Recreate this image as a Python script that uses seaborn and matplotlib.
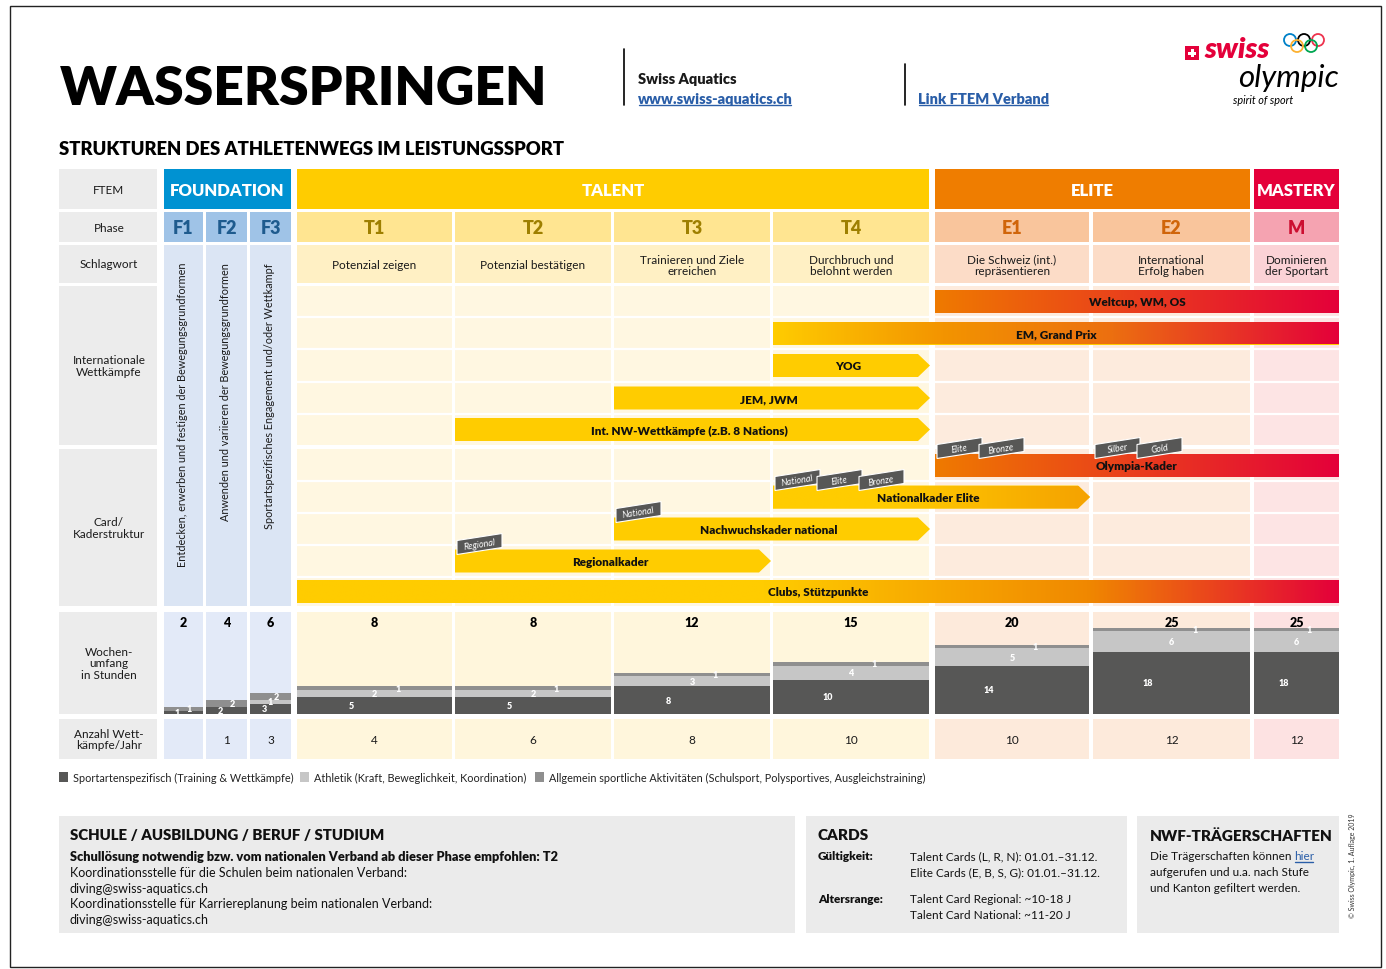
import numpy as np
import matplotlib
matplotlib.use("Agg")
import matplotlib.pyplot as plt
from matplotlib.patches import Rectangle, Polygon, Circle
from matplotlib.colors import LinearSegmentedColormap
import seaborn as sns

sns.set_theme(style="white")
plt.rcParams['font.family'] = ['Lato', 'DejaVu Sans']
BOLD = 'heavy'

# ---------------- data ----------------
ftem_groups = ['FOUNDATION', 'TALENT', 'ELITE', 'MASTERY']
phases = ['F1', 'F2', 'F3', 'T1', 'T2', 'T3', 'T4', 'E1', 'E2', 'M']
phase_group = ['F', 'F', 'F', 'T', 'T', 'T', 'T', 'E', 'E', 'M']
keywords = ['', '', '', 'Potenzial zeigen', 'Potenzial bestätigen',
            'Trainieren und Ziele\nerreichen', 'Durchbruch und\nbelohnt werden',
            'Die Schweiz (int.)\nrepräsentieren', 'International\nErfolg haben',
            'Dominieren\nder Sportart']
foundation_notes = ['Entdecken, erwerben und festigen der Bewegungsgrundformen',
                    'Anwenden und variieren der Bewegungsgrundformen',
                    'Sportartspezifisches Engagement und/oder Wettkampf']
row_labels = ['FTEM', 'Phase', 'Schlagwort', 'Internationale\nWettkämpfe',
              'Card/\nKaderstruktur', 'Wochen-\numfang\nin Stunden',
              'Anzahl Wett-\nkämpfe/Jahr']
hours_total = [2, 4, 6, 8, 8, 12, 15, 20, 25, 25]
hours_specific = [1, 2, 3, 5, 5, 8, 10, 14, 18, 18]
hours_athletic = [0, 0, 1, 2, 2, 3, 4, 5, 6, 6]
hours_general = [1, 2, 2, 1, 1, 1, 1, 1, 1, 1]
competitions = ['', '1', '3', '4', '6', '8', '10', '10', '12', '12']

# label, row in section, first phase, last phase, arrow head
intl_bars = [('Weltcup, WM, OS', 0, 'E1', 'M', False),
             ('EM, Grand Prix', 1, 'T4', 'M', False),
             ('YOG', 2, 'T4', 'T4', True),
             ('JEM, JWM', 3, 'T3', 'T4', True),
             ('Int. NW-Wettkämpfe (z.B. 8 Nations)', 4, 'T2', 'T4', True)]
card_bars = [('Olympia-Kader', 0, 'E1', 'M', False),
             ('Nationalkader Elite', 1, 'T4', 'E1', True),
             ('Nachwuchskader national', 2, 'T3', 'T4', True),
             ('Regionalkader', 3, 'T2', 'T3', True),
             ('Clubs, Stützpunkte', 4, 'T1', 'M', False)]
card_tags = [(0, 'E1', ['Elite', 'Bronze']),
             (0, 'E2', ['Silber', 'Gold']),
             (1, 'T4', ['National', 'Elite', 'Bronze']),
             (2, 'T3', ['National']),
             (3, 'T2', ['Regional'])]
legend_labels = ['Sportartenspezifisch (Training & Wettkämpfe)',
                 'Athletik (Kraft, Beweglichkeit, Koordination)',
                 'Allgemein sportliche Aktivitäten (Schulsport, Polysportives, Ausgleichstraining)']

# ---------------- styles / layout ----------------
YEL, ORA, RED = '#ffcc00', '#ef7d00', '#e4003a'
bar_colors = {
    'Weltcup, WM, OS': [(0, '#ef7a00'), (1, RED)],
    'EM, Grand Prix': [(0, YEL), (0.3, '#f39400'), (0.6, '#ec6f10'), (1, RED)],
    'Olympia-Kader': [(0, '#ef7a00'), (1, RED)],
    'Nationalkader Elite': [(0, YEL), (0.35, YEL), (1, '#f5a200')],
    'Clubs, Stützpunkte': [(0, YEL), (0.45, YEL), (0.76, '#f08800'), (1, RED)],
}
head_col = {'F': '#0092d2', 'T': YEL, 'E': ORA, 'M': RED}
phase_bg = {'F': '#9fc3e7', 'T': '#ffe591', 'E': '#f9c59c', 'M': '#f5a3b1'}
phase_fg = {'F': '#1e5b8e', 'T': '#9e7f00', 'E': '#d0650a', 'M': '#cc0f30'}
kw_bg = {'F': '#dbe5f4', 'T': '#fff0c4', 'E': '#fcdcc7', 'M': '#fbd2d6'}
body_bg = {'F': '#dbe5f4', 'T': '#fff7e1', 'E': '#fdebdd', 'M': '#fde4e4'}
week_bg = {'F': '#e3eaf8', 'T': '#fff6dc', 'E': '#fdeadb', 'M': '#fde2e2'}
DARK, LIGHT, MID = '#575756', '#c6c6c6', '#8f8f8f'
LINK = '#2a5ea8'

W, H = 1386, 970
col_x = [(164, 203), (206, 247), (250, 291), (297, 452), (455, 611),
         (614, 770), (773, 929), (935, 1089), (1093, 1250), (1254, 1339)]
colx = dict(zip(phases, col_x))
group_span = {'F': (164, 291), 'T': (297, 929), 'E': (935, 1250), 'M': (1254, 1339)}
left_rows = [(170, 210), (213, 243), (246, 284), (287, 446), (450, 607), (613, 715), (720, 760)]
intl_rows = [287, 318, 350, 383, 415, 446]
card_rows = [450, 482, 514, 546, 578, 607]

fig = plt.figure(figsize=(13.86, 9.70), dpi=100)
ax = fig.add_axes([0, 0, 1, 1])
ax.set_xlim(0, W)
ax.set_ylim(H, 0)
ax.axis('off')


def rect(x0, y0, x1, y1, color, z=1, **kw):
    ax.add_patch(Rectangle((x0, y0), x1 - x0, y1 - y0, facecolor=color,
                           edgecolor='none', zorder=z, **kw))


def txt(x, y, s, size, **kw):
    kw.setdefault('ha', 'center')
    kw.setdefault('va', 'center')
    kw.setdefault('color', '#1a1a1a')
    return ax.text(x, y, s, fontsize=size, zorder=8, **kw)


renderer = fig.canvas.get_renderer()


def underline(t, color):
    bb = t.get_window_extent(renderer=renderer)
    y = H - bb.y0 + 0.5
    ax.plot([bb.x0 + 0.5, bb.x1 - 1.5], [y, y], color=color, lw=1, zorder=8)


# ---------------- frame & header ----------------
ax.add_patch(Rectangle((10, 7), 1371, 961, fill=False, edgecolor='#222', lw=1, zorder=0))
txt(60, 105, 'WASSERSPRINGEN', 38.5, ha='left', va='baseline', fontweight=BOLD, color='black')
ax.plot([624, 624], [50, 106], color='black', lw=1.2)
ax.plot([905, 905], [65, 106], color='black', lw=1.2)
txt(638, 80, 'Swiss Aquatics', 10.5, ha='left', fontweight=BOLD)
t = txt(638, 99, 'www.swiss-aquatics.ch', 10.5, ha='left', fontweight=BOLD, color=LINK)
underline(t, LINK)
t = txt(918, 99, 'Link FTEM Verband', 10.5, ha='left', fontweight=BOLD, color=LINK)
underline(t, LINK)

# swiss olympic logo
rect(1185, 47, 1199, 61, RED, z=5)
rect(1188, 52.5, 1196, 55.5, 'white', z=6)
rect(1190.5, 50, 1193.5, 58, 'white', z=6)
txt(1204, 58, 'swiss', 21, ha='left', va='baseline', fontweight=BOLD, style='italic', color=RED)
for (cx, cy), c in zip([(1290, 41), (1304, 41), (1318, 41), (1297, 47), (1311, 47)],
                       ['#0081c8', '#000000', '#ee334e', '#fcb131', '#00a651']):
    ax.add_patch(Circle((cx, cy), 6, fill=False, edgecolor=c, lw=1.3, zorder=6))
txt(1339, 87, 'olympic', 22.5, ha='right', va='baseline', style='italic', color='black')
txt(1233, 100, 'spirit of sport', 7.8, ha='left', style='italic', color='black')

txt(59, 155, 'STRUKTUREN DES ATHLETENWEGS IM LEISTUNGSSPORT', 13.3, ha='left',
    va='baseline', fontweight=BOLD, color='black')

# ---------------- left label column ----------------
for lab, (y0, y1) in zip(row_labels, left_rows):
    rect(59, y0, 157, y1, '#ececec')
    txt(109, (y0 + y1) / 2, lab, 8.5, linespacing=1.05)

# FTEM row
for g, name in zip(['F', 'T', 'E', 'M'], ftem_groups):
    x0, x1 = group_span[g]
    rect(x0, 170, x1, 210, head_col[g])
    txt((x0 + x1) / 2, 191, name, 12, fontweight=BOLD, color='white')

# phase / keyword / body / week / competitions
for i, (p, g) in enumerate(zip(phases, phase_group)):
    x0, x1 = col_x[i]
    xc = (x0 + x1) / 2
    rect(x0, 213, x1, 243, phase_bg[g])
    txt(xc, 229, p, 13, fontweight=BOLD, color=phase_fg[g])
    if g == 'F':
        rect(x0, 246, x1, 607, body_bg[g])
        txt(xc - 1, 263, foundation_notes[i], 7.8, rotation=90, va='top')
    else:
        rect(x0, 246, x1, 284, kw_bg[g])
        txt(xc, 266, keywords[i], 8.5, linespacing=1.05)
        rect(x0, 287, x1, 446, body_bg[g])
        rect(x0, 450, x1, 607, body_bg[g])
    rect(x0, 613, x1, 715, week_bg[g])
    rect(x0, 720, x1, 760, week_bg[g])
    txt(xc, 741, competitions[i], 8.5)
    txt(xc, 623, str(hours_total[i]), 9, fontweight=BOLD, color='black')

for y in intl_rows[1:-1] + card_rows[1:-1]:
    ax.plot([297, 1339], [y, y], color='white', lw=1.6, zorder=2)


# ---------------- lane bars ----------------
def lane_bar(label, yc, first, last, arrow):
    x0 = colx[first][0]
    x1 = colx[last][1] + (1 if arrow else 0)
    h = 23
    y0, y1 = yc - h / 2, yc + h / 2
    tip = 12 if arrow else 0
    if arrow:
        verts = [(x0, y0), (x1 - tip, y0), (x1, yc), (x1 - tip, y1), (x0, y1)]
    else:
        verts = [(x0, y0), (x1, y0), (x1, y1), (x0, y1)]
    poly = Polygon(verts, closed=True, facecolor=YEL, edgecolor='none', zorder=3)
    ax.add_patch(poly)
    if label in bar_colors:
        cmap = LinearSegmentedColormap.from_list('g', bar_colors[label])
        grad = np.linspace(0, 1, 512).reshape(1, -1)
        im = ax.imshow(grad, cmap=cmap, extent=(x0, x1, y1, y0), aspect='auto',
                       interpolation='bilinear', zorder=3.5)
        im.set_clip_path(poly)
    txt((x0 + x1 - tip / 2) / 2, yc + 0.5, label, 8.5, fontweight=BOLD, color='#111')
    return y0


def centers(rows):
    return [(a + b) / 2 for a, b in zip(rows[:-1], rows[1:])]


ic = centers(intl_rows)
cc = centers(card_rows)
for label, r, a, b, arr in intl_bars:
    lane_bar(label, ic[r], a, b, arr)
tops = {}
for label, r, a, b, arr in card_bars:
    tops[r] = lane_bar(label, cc[r], a, b, arr)

# small card tags
for r, p, labs in card_tags:
    top = tops[r]
    x = colx[p][0] + 2
    for k, lab in enumerate(labs):
        xs = x + 42 * k
        verts = [(xs, top + 5), (xs + 45, top - 2), (xs + 45, top - 16), (xs, top - 9)]
        ax.add_patch(Polygon(verts, closed=True, facecolor=DARK, edgecolor='white',
                             lw=0.8, zorder=5 + 0.01 * k))
        ax.text(xs + 22.5, top - 5.5, lab, fontsize=6.5, style='italic', color='white',
                rotation=9, ha='center', va='center', zorder=5.005 + 0.01 * k)

# ---------------- weekly hours (stacked bars) ----------------
wx0, wx1, wy0, wy1 = 164, 1339, 613, 715
pxh = 3.45
axw = fig.add_axes([wx0 / W, 1 - wy1 / H, (wx1 - wx0) / W, (wy1 - wy0) / H])
axw.set_xlim(wx0, wx1)
axw.set_ylim(0, (wy1 - wy0) / pxh)
axw.axis('off')
axw.patch.set_visible(False)
xc = np.array([(a + b) / 2 for a, b in col_x])
wd = np.array([b - a for a, b in col_x])
spec = np.array(hours_specific)
ath = np.array(hours_athletic)
gen = np.array(hours_general)
axw.bar(xc, spec, width=wd, color=DARK, linewidth=0)
axw.bar(xc, ath, bottom=spec, width=wd, color=LIGHT, linewidth=0)
axw.bar(xc, gen, bottom=spec + ath, width=wd, color=MID, linewidth=0)
for i in range(len(phases)):
    x0 = col_x[i][0]
    w = wd[i]
    for val, base, fx in [(spec[i], 0, 0.35), (ath[i], spec[i], 0.5), (gen[i], spec[i] + ath[i], 0.65)]:
        if val > 0:
            axw.text(x0 + fx * w, base + val / 2, str(val), fontsize=6.5, fontweight=BOLD,
                     color='white', ha='center', va='center')

# ---------------- legend ----------------
lx = [59, 300, 535]
for x, c, lab in zip(lx, [DARK, LIGHT, MID], legend_labels):
    rect(x, 773, x + 9, 783, c)
    txt(x + 14, 778, lab, 7.8, ha='left', color='#222')

# ---------------- footer boxes ----------------
rect(59, 817, 795, 934, '#ebebeb')
rect(806, 817, 1127, 934, '#ebebeb')
rect(1137, 817, 1339, 934, '#ebebeb')

txt(70, 836, 'SCHULE / AUSBILDUNG / BERUF / STUDIUM', 10.8, ha='left', fontweight=BOLD, color='#111')
txt(70, 857, 'Schullösung notwendig bzw. vom nationalen Verband ab dieser Phase empfohlen: T2',
    9.2, ha='left', fontweight=BOLD, color='#111')
for k, line in enumerate(['Koordinationsstelle für die Schulen beim nationalen Verband:',
                          'diving@swiss-aquatics.ch',
                          'Koordinationsstelle für Karriereplanung beim nationalen Verband:',
                          'diving@swiss-aquatics.ch']):
    txt(70, 873 + 15.7 * k, line, 9, ha='left', color='#111')

txt(818, 836, 'CARDS', 11, ha='left', fontweight=BOLD, color='#111')
txt(818, 857, 'Gültigkeit:', 8.5, ha='left', fontweight=BOLD, color='#111')
txt(910, 857, 'Talent Cards (L, R, N): 01.01.–31.12.', 8.5, ha='left', color='#111')
txt(910, 873, 'Elite Cards (E, B, S, G): 01.01.–31.12.', 8.5, ha='left', color='#111')
txt(818, 900, 'Altersrange:', 8.5, ha='left', fontweight=BOLD, color='#111')
txt(910, 900, 'Talent Card Regional: ~10-18 J', 8.5, ha='left', color='#111')
txt(910, 916, 'Talent Card National: ~11-20 J', 8.5, ha='left', color='#111')

txt(1150, 836, 'NWF-TRÄGERSCHAFTEN', 11, ha='left', fontweight=BOLD, color='#111')
t = txt(1150, 857, 'Die Trägerschaften können ', 8.5, ha='left', color='#111')
xe = t.get_window_extent(renderer=renderer).x1
t2 = txt(xe, 857, 'hier', 8.5, ha='left', color=LINK)
underline(t2, LINK)
txt(1150, 873, 'aufgerufen und u.a. nach Stufe', 8.5, ha='left', color='#111')
txt(1150, 889, 'und Kanton gefiltert werden.', 8.5, ha='left', color='#111')

txt(1352, 866, '© Swiss Olympic, 1. Auflage 2019', 5, rotation=90, color='#333')

ax.set_xlim(0, W)
ax.set_ylim(H, 0)
fig.savefig('out.png', dpi=100)
